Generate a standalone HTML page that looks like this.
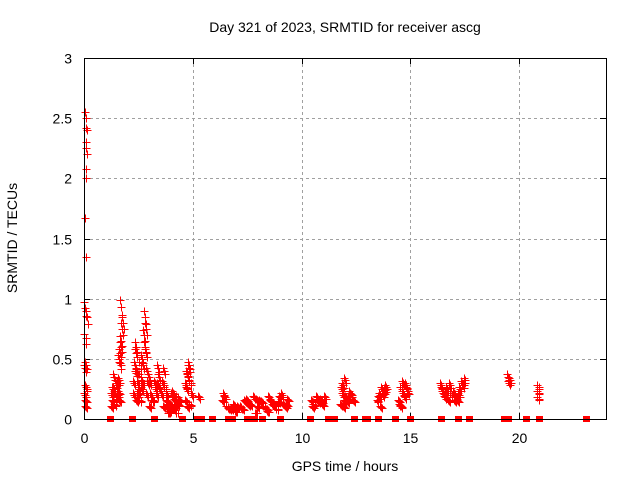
<!DOCTYPE html>
<html><head><meta charset="utf-8"><style>
body{margin:0;background:#fff;}
svg{display:block;font-family:"Liberation Sans",sans-serif;}
</style></head><body>
<svg id="chart" width="640" height="480">
<rect width="640" height="480" fill="#fff"/>
<text x="345" y="32" font-size="14" text-anchor="middle">Day 321 of 2023, SRMTID for receiver ascg</text>
<text x="345" y="471" font-size="14" text-anchor="middle">GPS time / hours</text>
<text transform="translate(17,238) rotate(-90)" font-size="14" text-anchor="middle">SRMTID / TECUs</text>
<g id="grid"></g><g id="ticks"></g><g id="marks"></g>
<rect x="84.5" y="58.5" width="522" height="361" fill="none" stroke="#000"/>
</svg>
<script>
const xTicks=[0,5,10,15,20];
const yTicks=[0,0.5,1,1.5,2,2.5,3];
const yTickLabels=["0","0.5","1","1.5","2","2.5","3"];
const times=[0.05,0.08,0.1,0.12,0.1,0.08,0.12,0.1,0.08,0.06,0.08,0.05,0.15,0.07,0.1,0.05,0.09,0.12,0.05,0.1,0.08,
1.3,1.35,1.4,1.45,1.5,1.55,1.6,1.3,1.4,1.5,1.6,1.65,1.7,1.75,1.8,1.7,1.72,1.68,1.62,1.58,1.65,1.45,1.35,
2.3,2.35,2.4,2.45,2.5,2.55,2.6,2.65,2.7,2.4,2.5,2.6,2.7,2.75,2.8,2.85,2.9,2.95,2.85,2.8,2.9,2.3,2.4,2.6,2.55,2.65,2.45,3.0,3.05,3.1,3.2,3.3,3.4,3.45,3.35,3.25,3.15,3.05,3.4,3.5,
3.6,3.7,3.8,3.9,4.0,4.1,4.2,4.3,4.4,3.65,3.75,3.85,3.95,4.05,4.15,4.25,4.35,3.7,3.9,4.1,4.3,4.0,3.8,
4.7,4.75,4.8,4.85,4.9,4.95,4.8,4.85,4.75,4.7,4.9,5.3,
6.4,6.6,6.8,7.0,7.2,7.4,7.6,7.8,8.0,8.2,8.4,8.6,8.8,9.0,9.2,9.4,6.5,6.7,6.9,7.1,7.3,7.5,7.7,7.9,8.1,8.3,8.5,8.7,8.9,9.1,9.3,6.45,6.95,7.45,7.95,8.45,8.95,9.35,
10.5,10.6,10.7,10.8,10.9,11.0,11.1,10.55,10.75,10.95,
11.8,11.9,12.0,12.1,12.2,12.3,12.4,11.85,11.95,12.05,12.15,12.25,11.9,12.0,
13.5,13.6,13.7,13.8,13.9,13.55,13.65,13.75,13.85,
14.5,14.6,14.7,14.8,14.9,14.55,14.65,14.75,14.85,14.6,
16.4,16.5,16.6,16.7,16.8,16.9,17.0,17.1,17.2,17.3,17.4,17.5,16.45,16.65,16.85,17.05,17.25,17.45,
19.5,19.55,19.6,20.9,20.9,20.9];
const values=[2.55,2.5,2.42,2.4,2.3,2.25,2.2,2.08,2.0,1.67,1.35,0.92,0.85,0.67,0.45,0.42,0.27,0.25,0.2,0.15,0.1,
0.2,0.15,0.25,0.12,0.18,0.3,0.22,0.1,0.35,0.28,0.5,0.55,0.65,0.75,0.8,0.93,0.6,0.45,0.32,0.2,0.15,0.12,0.25,
0.3,0.45,0.55,0.4,0.3,0.25,0.35,0.5,0.45,0.6,0.2,0.15,0.3,0.7,0.85,0.55,0.4,0.3,0.75,0.6,0.2,0.2,0.38,0.45,0.22,0.25,0.15,0.35,0.3,0.2,0.15,0.25,0.42,0.35,0.2,0.3,0.15,0.1,0.28,0.25,
0.2,0.1,0.15,0.08,0.12,0.18,0.1,0.05,0.15,0.3,0.25,0.12,0.06,0.2,0.08,0.15,0.12,0.4,0.05,0.22,0.18,0.1,0.2,
0.15,0.25,0.35,0.42,0.3,0.2,0.1,0.45,0.38,0.28,0.12,0.18,
0.15,0.1,0.08,0.06,0.1,0.15,0.12,0.18,0.1,0.14,0.08,0.15,0.12,0.18,0.12,0.16,0.18,0.08,0.12,0.1,0.08,0.16,0.12,0.05,0.15,0.1,0.18,0.12,0.08,0.2,0.1,0.2,0.1,0.14,0.16,0.06,0.14,0.12,
0.15,0.12,0.18,0.14,0.16,0.12,0.18,0.1,0.16,0.14,
0.12,0.2,0.32,0.15,0.18,0.2,0.15,0.25,0.1,0.18,0.14,0.22,0.28,0.15,
0.15,0.2,0.25,0.22,0.27,0.18,0.1,0.2,0.24,
0.15,0.25,0.2,0.28,0.22,0.12,0.3,0.18,0.25,0.1,
0.28,0.22,0.18,0.25,0.15,0.2,0.22,0.18,0.15,0.25,0.3,0.32,0.25,0.2,0.28,0.15,0.2,0.28,
0.35,0.3,0.32,0.27,0.22,0.17];
const zeroTimes=[1.2,2.2,3.2,4.5,5.2,5.4,5.9,6.6,6.8,7.5,7.8,8.2,9.0,10.4,11.2,11.3,11.5,12.4,12.9,13.0,13.5,14.3,15.0,16.4,17.2,17.7,19.3,19.5,20.3,20.9,23.1];
const X0=84,X1=606,Y0=419,Y1=58;
const xs=t=>X0+(t/24)*(X1-X0);
const ys=v=>Y0-(v/3)*(Y0-Y1);
const NS="http://www.w3.org/2000/svg";
const grid=document.getElementById('grid'),ticks=document.getElementById('ticks'),marks=document.getElementById('marks');
function mk(tag,at,parent){const e=document.createElementNS(NS,tag);for(const k in at)e.setAttribute(k,at[k]);parent.appendChild(e);return e;}
xTicks.forEach(t=>{const x=Math.round(xs(t))+0.5;
 if(t>0){const g=mk('line',{x1:x,x2:x,y1:Y1,y2:Y0,stroke:'#a0a0a0','stroke-dasharray':'3,3'},grid);
 
 }
 mk('line',{x1:x,x2:x,y1:Y0,y2:Y0-6,stroke:'#000'},ticks);mk('line',{x1:x,x2:x,y1:Y1,y2:Y1+6,stroke:'#000'},ticks);
 const l=mk('text',{x:x,y:443,'font-size':14,'text-anchor':'middle'},ticks);l.textContent=t;
 
 });
yTicks.forEach((v,i)=>{const y=Math.round(ys(v))+0.5;
 if(v>0&&v<3){const g=mk('line',{x1:X0,x2:X1,y1:y,y2:y,stroke:'#a0a0a0','stroke-dasharray':'3,3'},grid);
 
 }
 mk('line',{x1:X0,x2:X0+6,y1:y,y2:y,stroke:'#000'},ticks);mk('line',{x1:X1,x2:X1-6,y1:y,y2:y,stroke:'#000'},ticks);
 const l=mk('text',{x:72,y:y+5,'font-size':14,'text-anchor':'end'},ticks);l.textContent=yTickLabels[i];
 
 });
function plus(t,v){const x=Math.round(xs(t))+0.5,y=Math.round(ys(v))+0.5;
 const p=mk('path',{d:`M${x-4},${y}H${x+4}M${x},${y-4}V${y+4}`,stroke:'#f00','stroke-width':1,fill:'none'},marks);
 
 }
times.forEach((t,i)=>{plus(t,values[i]);
 if(values[i]<1){plus(t+0.04,values[i]*0.93);plus(t-0.05,values[i]*1.06);}});
zeroTimes.forEach(t=>{const x=Math.round(xs(t));
 const r=mk('rect',{x:x-3,y:Y0-3,width:7,height:6,fill:'#f00'},marks);
 
 });
</script>
</body></html>
